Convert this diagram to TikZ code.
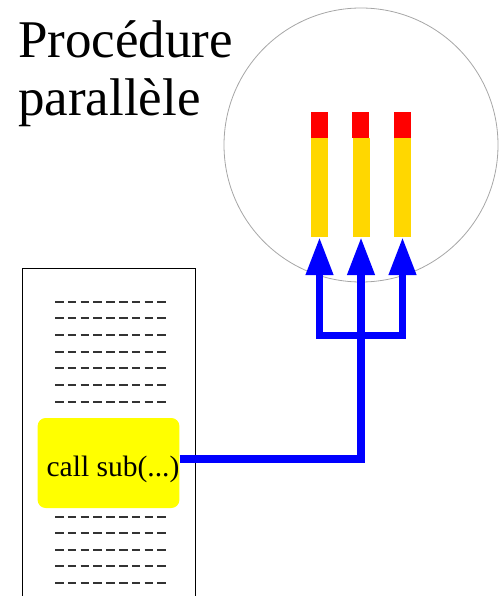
\documentclass[tikz,border=0pt]{standalone}
\usepackage{fontspec}
\setmainfont{Liberation Serif}
\usetikzlibrary{positioning,arrows.meta}

\definecolor{threadgold}{RGB}{255,215,0}
\definecolor{callyellow}{RGB}{255,255,0}
\definecolor{linkblue}{RGB}{0,0,255}

\tikzset{
  codeline/.style={draw=black!80, line width=2pt, dash pattern=on 8.5pt off 4.3pt},
  thread/.style={fill=threadgold, minimum width=17pt, minimum height=99pt, inner sep=0pt},
  link/.style={draw=linkblue, line width=7.5pt, line join=miter},
}

\begin{document}
\begin{tikzpicture}[x=1pt,y=-1pt]
				\useasboundingbox (0,0) rectangle (503,596);
				\clip (0,0) rectangle (503,596);
				% titre
				\node[anchor=north west, inner sep=0pt, align=left, font=\fontsize{53}{58}\selectfont] (title) at (18,20) {Procédure\\parallèle};
				% procedure parallele
				\node[draw=gray!70, line width=0.8pt, circle, minimum size=274pt, inner sep=0pt] (proc) at (361,145) {};
				\foreach \x [count=\i] in {319.5,361,402.5} {
					\node[thread] (t\i) at (\x,187.5) {};
					\fill[red] (t\i.north west) rectangle ++(17,-26);
				}
				% programme appelant
				\node[draw, line width=1pt, anchor=north west, minimum width=173pt, minimum height=360pt, inner sep=0pt] (prog) at (22,268) {};
				\foreach \y in {301.5,318.2,334.9,351.6,368.3,385,401.7} \draw[codeline] (55,\y) -- (168,\y);
				\foreach \y in {516.5,533,549.5,566,582.5} \draw[codeline] (55,\y) -- (168,\y);
				\node[fill=callyellow, rounded corners=8pt, minimum width=141pt, minimum height=90pt, inner sep=0pt,
					text height=26pt, text depth=0pt, font=\fontsize{29.5}{32}\selectfont] (call) at (108.5,463) {\hspace*{9pt}call sub(...)};
				% appel
				\coordinate (bend) at (361,459);
				\coordinate (fork) at (361,335.5);
				\draw[link, -{Triangle[length=38pt,width=26pt]}] (call.east |- bend) -- (bend) -- (t2.south);
				\draw[link, {Triangle[length=38pt,width=26pt]}-{Triangle[length=38pt,width=26pt]}] (t1.south) -- (t1.south |- fork) -- (t3.south |- fork) -- (t3.south);
\end{tikzpicture}
\end{document}
